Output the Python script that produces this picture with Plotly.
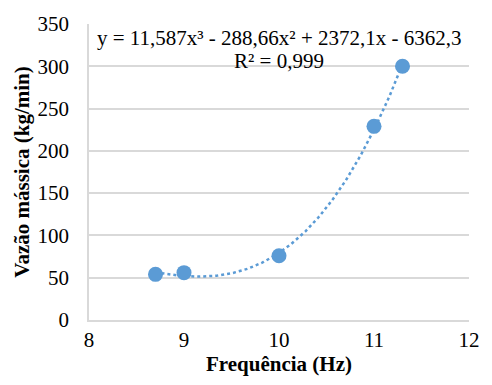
import numpy as np
import plotly.graph_objects as go

freq = [8.7, 9.0, 10.0, 11.0, 11.3]
vazao = [54, 56, 76, 229, 300]
x_ticks = [8, 9, 10, 11, 12]
y_ticks = [0, 50, 100, 150, 200, 250, 300, 350]
eq_line1 = "y = 11,587x³ - 288,66x² + 2372,1x - 6362,3"
eq_line2 = "R² = 0,999"

coef = np.polyfit(freq, vazao, 3)
xs = np.linspace(min(freq), max(freq), 200)
ys = np.polyval(coef, xs)

color = "#5B9BD5"
fig = go.Figure()
fig.add_trace(go.Scatter(x=xs, y=ys, mode="lines",
                         line=dict(color=color, width=2.5, dash="dot"),
                         hoverinfo="skip", showlegend=False))
fig.add_trace(go.Scatter(x=freq, y=vazao, mode="markers",
                         marker=dict(color=color, size=15),
                         showlegend=False))

font = "'Times New Roman', 'Liberation Serif', serif"
fig.update_layout(
    width=492, height=385,
    margin=dict(l=89, r=12, t=19, b=65),
    plot_bgcolor="white", paper_bgcolor="white",
    font=dict(family=font, size=21, color="black"),
    xaxis=dict(range=[8, 12], tickvals=x_ticks, showgrid=False,
               showline=True, linecolor="#d9d9d9", linewidth=1.5,
               ticks="", zeroline=False,
               tickfont=dict(family=font, size=21),
               title=dict(text="<b>Frequência (Hz)</b>", font=dict(family=font, size=21), standoff=2)),
    yaxis=dict(range=[0, 350], tickvals=y_ticks, showgrid=True,
               gridcolor="#d9d9d9", gridwidth=1.5,
               showline=True, linecolor="#d9d9d9", linewidth=1.5,
               ticks="outside", ticklen=14, tickcolor="rgba(0,0,0,0)",
               zeroline=False,
               tickfont=dict(family=font, size=21),
               title=dict(text="<b>Vazão mássica (kg/min)</b>", font=dict(family=font, size=21), standoff=2)),
    annotations=[
        dict(text=eq_line1, xref="paper", yref="paper",
             x=0.501, y=0.953, xanchor="center", yanchor="middle",
             showarrow=False, font=dict(family=font, size=21, color="black")),
        dict(text=eq_line2, xref="paper", yref="paper",
             x=0.501, y=0.874, xanchor="center", yanchor="middle",
             showarrow=False, font=dict(family=font, size=21, color="black")),
    ],
)
fig.write_html("out.html")
